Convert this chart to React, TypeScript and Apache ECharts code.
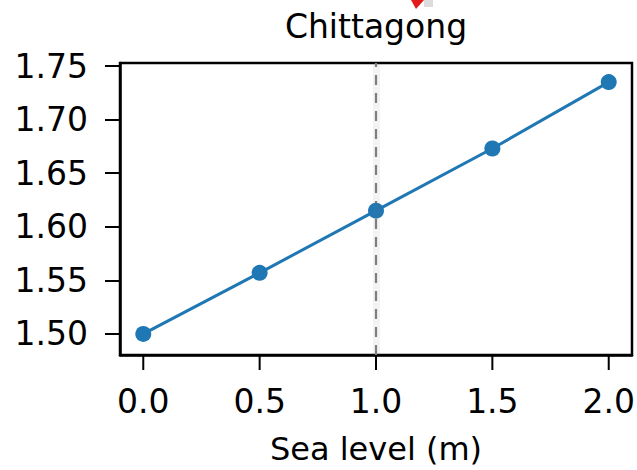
import React, { useEffect, useRef } from "react";
import * as echarts from "echarts";

// Sea level rise (m) and the corresponding level at Chittagong
const seaLevel = [0.0, 0.5, 1.0, 1.5, 2.0];
const levelValues = [1.5, 1.557, 1.615, 1.673, 1.735];

const xTicks = [0.0, 0.5, 1.0, 1.5, 2.0];
const yTicks = [1.5, 1.55, 1.6, 1.65, 1.7, 1.75];

const referenceLevel = 1.0;
const titleText = "Chittagong";
const xName = "Sea level (m)";

const X_MIN = -0.1;
const X_MAX = 2.1;
const Y_MIN = 1.4803;
const Y_MAX = 1.7528;

const FONT = "DejaVu Sans";
const TICK_LEN = 15;

export default function App() {
  const ref = useRef<HTMLDivElement>(null);

  useEffect(() => {
    if (!ref.current) return;
    const chart = echarts.init(ref.current, null, { renderer: "svg" });

    const axisLine = {
      show: true,
      onZero: false,
      lineStyle: { color: "#000", width: 2.5 },
    };

    const option: any = {
      animation: false,
      backgroundColor: "#ffffff",
      title: {
        text: titleText,
        left: 376,
        top: 10,
        padding: 0,
        textAlign: "center",
        textStyle: {
          fontFamily: FONT,
          fontSize: 33,
          fontWeight: "normal",
          color: "#000",
        },
      },
      grid: {
        left: 120,
        right: 5,
        top: 63,
        bottom: 115,
        show: true,
        borderColor: "#000",
        borderWidth: 2.5,
        containLabel: false,
        outerBoundsMode: "none",
      },
      xAxis: {
        type: "value",
        position: "bottom",
        min: X_MIN,
        max: X_MAX,
        name: xName,
        nameLocation: "middle",
        nameGap: 78,
        nameMoveOverlap: false,
        nameTextStyle: { fontFamily: FONT, fontSize: 32, color: "#000" },
        axisLine,
        axisTick: { show: false },
        axisLabel: {
          // each label carries its own outward tick mark above the value
          customValues: xTicks,
          margin: 0,
          fontFamily: FONT,
          fontSize: 33,
          color: "#000",
          formatter: (v: number) => `{tick| }\n{val|${v.toFixed(1)}}`,
          rich: {
            tick: {
              width: 2,
              height: TICK_LEN,
              lineHeight: TICK_LEN,
              fontSize: 1,
              backgroundColor: "#000",
            },
            val: {
              fontFamily: FONT,
              fontSize: 33,
              color: "#000",
              lineHeight: 62,
            },
          },
        },
        splitLine: { show: false },
      },
      yAxis: {
        type: "value",
        position: "left",
        min: Y_MIN,
        max: Y_MAX,
        axisLine,
        axisTick: {
          show: true,
          inside: false,
          length: TICK_LEN,
          customValues: yTicks,
          lineStyle: { color: "#000", width: 2 },
        },
        axisLabel: {
          customValues: yTicks,
          margin: 32,
          fontFamily: FONT,
          fontSize: 33,
          color: "#000",
          formatter: (v: number) => v.toFixed(2),
        },
        splitLine: { show: false },
      },
      series: [
        {
          // soft halo behind the reference line
          type: "line",
          data: [],
          silent: true,
          markLine: {
            silent: true,
            symbol: "none",
            label: { show: false },
            lineStyle: {
              color: "rgba(120,120,120,0.09)",
              width: 7,
              type: "solid",
            },
            data: [{ xAxis: referenceLevel }],
          },
        },
        {
          type: "line",
          data: seaLevel.map((x, i) => [x, levelValues[i]]),
          symbol: "circle",
          symbolSize: 16,
          lineStyle: { color: "#1f77b4", width: 3 },
          itemStyle: { color: "#1f77b4" },
          z: 3,
          markLine: {
            silent: true,
            symbol: "none",
            label: { show: false },
            lineStyle: {
              color: "#7f7f7f",
              width: 2.2,
              type: [10, 8],
            },
            data: [{ xAxis: referenceLevel }],
            z: 2,
          },
        },
      ],
      graphic: [
        // small red arrow head clipped at the top edge
        {
          type: "polygon",
          shape: { points: [[411, 0], [424, 0], [416, 9]] },
          style: { fill: "#e31a1c" },
        },
        {
          type: "rect",
          shape: { x: 424, y: 0, width: 9, height: 7 },
          style: { fill: "#dcdcdc" },
        },
      ],
    };

    chart.setOption(option);
    return () => chart.dispose();
  }, []);

  return (
    <div
      ref={ref}
      style={{ position: "absolute", left: 0, top: 0, width: 637, height: 470 }}
    />
  );
}
